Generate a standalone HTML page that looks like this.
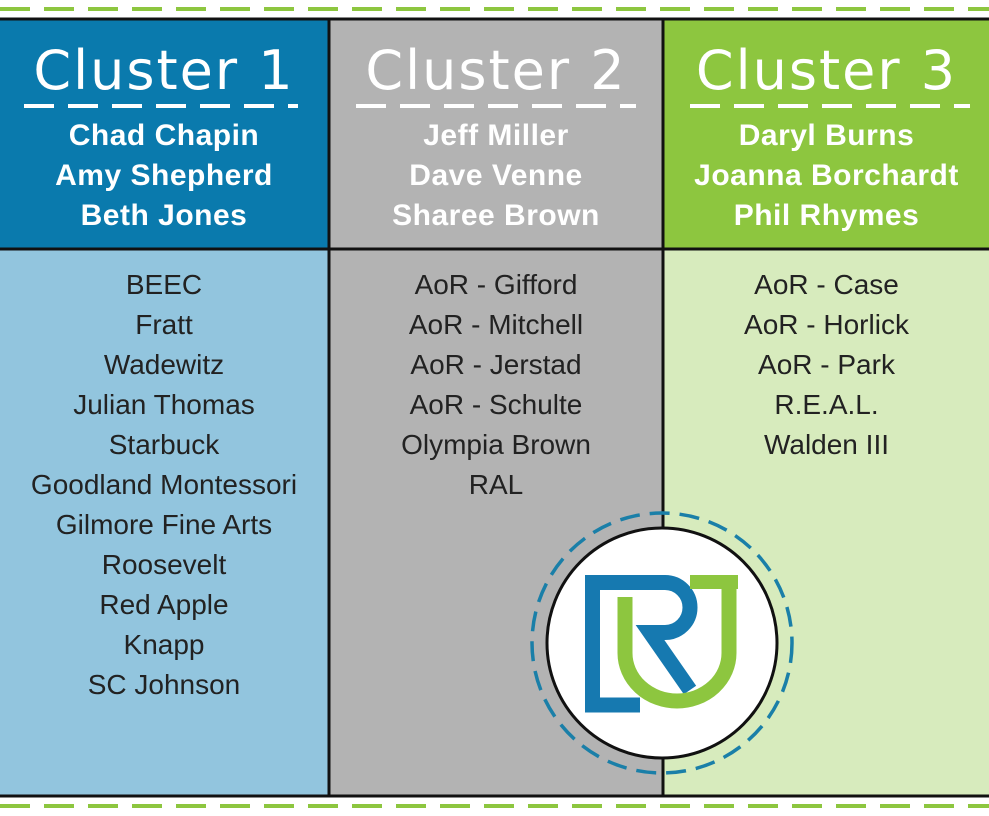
<!DOCTYPE html>
<html><head><meta charset="utf-8"><style>
body{margin:0;width:989px;height:816px;background:#fff;position:relative;overflow:hidden;font-family:"Liberation Sans",sans-serif}
.c{position:absolute;text-align:center}
.h{top:20px;height:228px;color:#fff}
.b{top:250px;height:545px;color:#222}
.t{font-family:"Comic Sans MS","DejaVu Sans",sans-serif;font-size:54px;line-height:60px;margin-top:21px;letter-spacing:2px}
.n{font-size:30px;line-height:40px;font-weight:bold;margin-top:15px;letter-spacing:0.5px}
.l{font-size:28px;line-height:40px;padding-top:15px}
</style></head><body>
<svg style="position:absolute;left:0;top:0" width="989" height="816">
<line x1="0" y1="9" x2="989" y2="9" stroke="#8dc63f" stroke-width="4" stroke-dasharray="30 14"/>
<line x1="0" y1="806" x2="989" y2="806" stroke="#8dc63f" stroke-width="4" stroke-dasharray="30 14"/>
</svg>
<div class="c h" style="left:0;width:328px;background:#0a7aad"><div class="t">Cluster 1</div><div class="n">Chad Chapin<br>Amy Shepherd<br>Beth Jones</div></div>
<div class="c h" style="left:330px;width:332px;background:#b3b3b3"><div class="t">Cluster 2</div><div class="n">Jeff Miller<br>Dave Venne<br>Sharee Brown</div></div>
<div class="c h" style="left:664px;width:325px;background:#8dc63f"><div class="t">Cluster 3</div><div class="n">Daryl Burns<br>Joanna Borchardt<br>Phil Rhymes</div></div>
<div class="c b" style="left:0;width:328px;background:#92c5de"><div class="l">BEEC<br>Fratt<br>Wadewitz<br>Julian Thomas<br>Starbuck<br>Goodland Montessori<br>Gilmore Fine Arts<br>Roosevelt<br>Red Apple<br>Knapp<br>SC Johnson</div></div>
<div class="c b" style="left:330px;width:332px;background:#b3b3b3"><div class="l">AoR - Gifford<br>AoR - Mitchell<br>AoR - Jerstad<br>AoR - Schulte<br>Olympia Brown<br>RAL</div></div>
<div class="c b" style="left:664px;width:325px;background:#d7ebbd"><div class="l">AoR - Case<br>AoR - Horlick<br>AoR - Park<br>R.E.A.L.<br>Walden III</div></div>
<svg style="position:absolute;left:0;top:0" width="989" height="816">
<g stroke="#fff" stroke-width="4" stroke-dasharray="30 14">
<line x1="24" y1="106" x2="298" y2="106"/><line x1="356" y1="106" x2="636" y2="106"/><line x1="690" y1="106" x2="970" y2="106"/>
</g>
<g stroke="#111" stroke-width="3">
<line x1="0" y1="19" x2="989" y2="19"/><line x1="0" y1="249" x2="989" y2="249"/><line x1="0" y1="796" x2="989" y2="796"/>
<line x1="329" y1="19" x2="329" y2="796"/><line x1="663" y1="19" x2="663" y2="796"/>
</g>
<circle cx="662" cy="643" r="130" fill="none" stroke="#1a7fa8" stroke-width="3.5" stroke-dasharray="20 10"/>
<circle cx="662" cy="643" r="115" fill="#fff" stroke="#111" stroke-width="3"/>
<g fill="none" stroke-linejoin="miter">
<path d="M640 705 H592.5 V582.5 H665 A25 25 0 0 1 665 632.5 H650 L690 690" stroke="#1679b0" stroke-width="15"/>
<path d="M625 597 V653 A52 48 0 0 0 729 653 V575" stroke="#8dc63f" stroke-width="15"/>
<rect x="690" y="575" width="48" height="14" fill="#8dc63f"/>
</g>
</svg>
</body></html>
